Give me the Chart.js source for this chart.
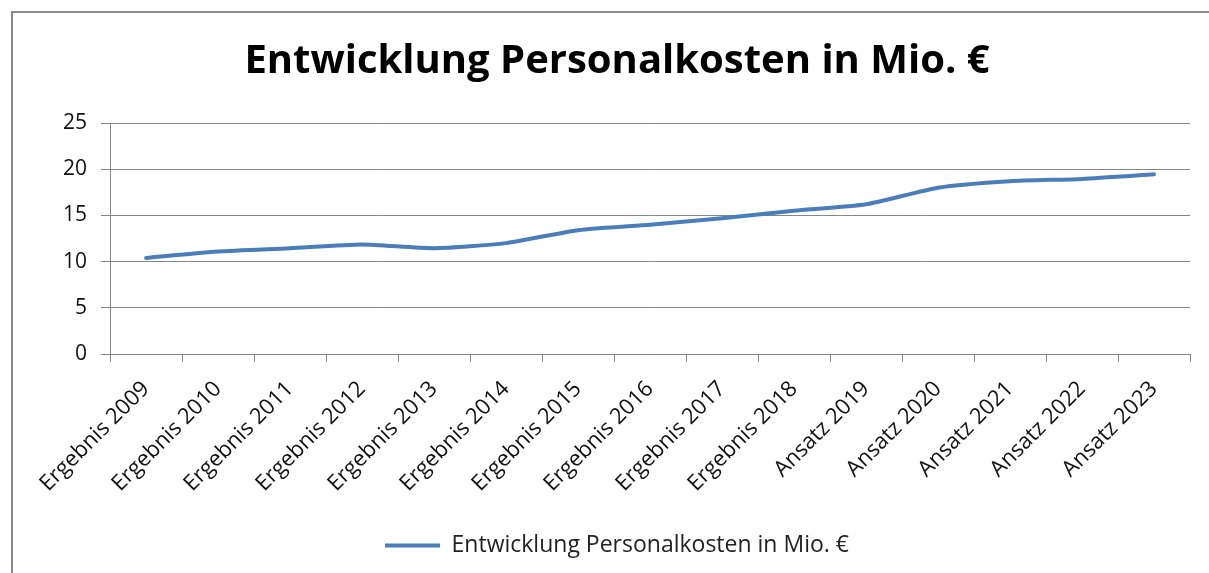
<!DOCTYPE html>
<html>
<head>
<meta charset="utf-8">
<script src="https://cdn.jsdelivr.net/npm/chart.js@4.4.0/dist/chart.umd.min.js"></script>
<style>
  html, body { margin: 0; padding: 0; background: #fff; }
  #frame {
    position: absolute; left: 11px; top: 11px; width: 1300px; height: 700px;
    border-left: 2px solid #8a8a8a; border-top: 2px solid #8a8a8a;
  }
  #wrap { position: absolute; left: 0; top: 0; width: 1209px; height: 573px; }
</style>
</head>
<body>
<div id="frame"></div>
<div id="wrap"><canvas id="myChart"></canvas></div>
<script>
// Chart data
const categories = [
    'Ergebnis 2009', 'Ergebnis 2010', 'Ergebnis 2011', 'Ergebnis 2012', 'Ergebnis 2013',
    'Ergebnis 2014', 'Ergebnis 2015', 'Ergebnis 2016', 'Ergebnis 2017', 'Ergebnis 2018',
    'Ansatz 2019', 'Ansatz 2020', 'Ansatz 2021', 'Ansatz 2022', 'Ansatz 2023'
];
const personalkosten = [10.4, 11.1, 11.45, 11.85, 11.45, 12.0, 13.4, 14.0, 14.7, 15.5, 16.2, 18.0, 18.7, 18.95, 19.45];
const yTicks = [0, 5, 10, 15, 20, 25];

const seriesName = 'Entwicklung Personalkosten in Mio. €';
const lineBlue = '#4a7ebb';
const gridGray = '#868686';
const fontFamily = '"Open Sans", Lato, sans-serif';

const ctx = document.getElementById('myChart').getContext('2d');
const myChart = new Chart(ctx, {
    type: 'line',
    data: {
        labels: categories,
        datasets: [{
            label: seriesName,
            data: personalkosten,
            borderColor: lineBlue,
            backgroundColor: lineBlue,
            borderWidth: 4,
            pointRadius: 0,
            tension: 0.2,
            borderCapStyle: 'round',
            borderJoinStyle: 'round'
        }]
    },
    options: {
        responsive: true,
        maintainAspectRatio: false,
        animation: false,
        layout: { padding: { left: 44, right: 19, top: 0, bottom: 6 } },
        plugins: {
            title: {
                display: true,
                text: seriesName,
                color: '#000',
                font: { family: fontFamily, size: 40, weight: 'bold' },
                padding: { top: 38, bottom: 37 }
            },
            legend: {
                position: 'bottom',
                labels: {
                    color: '#222',
                    font: { family: fontFamily, size: 23 },
                    boxWidth: 55,
                    boxHeight: 4,
                    padding: 10,
                    generateLabels: (chart) => {
                        const items = Chart.defaults.plugins.legend.labels.generateLabels(chart);
                        items.forEach(it => { it.lineWidth = 0; it.fillStyle = lineBlue; });
                        return items;
                    }
                }
            },
            tooltip: { enabled: false }
        },
        scales: {
            x: {
                offset: true,
                afterFit: (scale) => { scale.height = 170; },
                grid: {
                    offset: true,
                    drawOnChartArea: false,
                    drawTicks: true,
                    tickLength: 8,
                    color: gridGray
                },
                border: { color: gridGray, width: 1 },
                ticks: {
                    color: '#111',
                    font: { family: fontFamily, size: 22 },
                    maxRotation: 45,
                    minRotation: 45,
                    autoSkip: false,
                    padding: 14
                }
            },
            y: {
                min: 0,
                max: 25,
                afterBuildTicks: (scale) => {
                    scale.ticks = yTicks.map(v => ({ value: v }));
                },
                afterFit: (scale) => { scale.width = 66; },
                grid: { color: gridGray, tickLength: 9 },
                border: { color: gridGray, width: 1 },
                ticks: {
                    color: '#111',
                    font: { family: fontFamily, size: 21 },
                    padding: 14
                }
            }
        }
    }
});
</script>
</body>
</html>
